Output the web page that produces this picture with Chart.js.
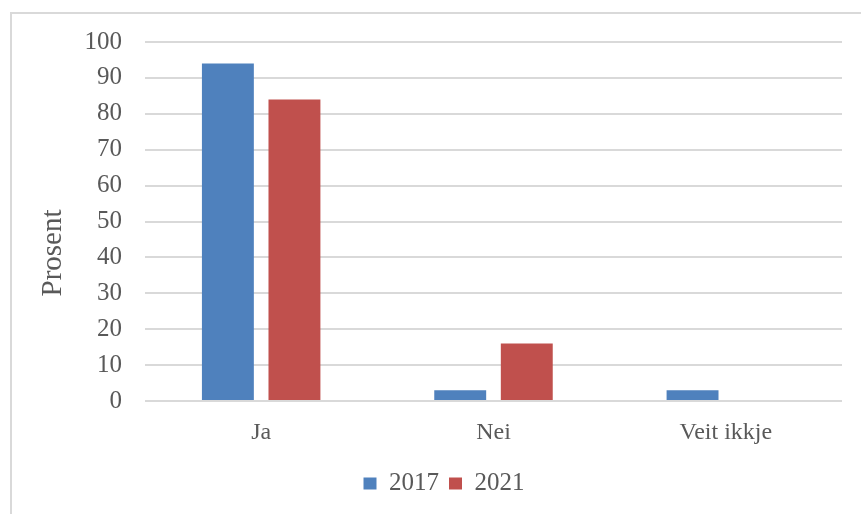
<!DOCTYPE html>
<html>
<head>
<meta charset="utf-8">
<script src="https://cdn.jsdelivr.net/npm/chart.js@4/dist/chart.umd.min.js"></script>
<style>
  html, body { margin: 0; padding: 0; background: #ffffff; overflow: hidden; }
  #wrap { position: relative; width: 861px; height: 514px; }
  canvas { display: block; }
</style>
</head>
<body>
<div id="wrap"><canvas id="c" width="861" height="514"></canvas></div>
<script>
const categories = ["Ja", "Nei", "Veit ikkje"];
const seriesNames = ["2017", "2021"];
const values2017 = [94, 3, 3];
const values2021 = [84, 16, 0];
const yTicks = [0, 10, 20, 30, 40, 50, 60, 70, 80, 90, 100];
const yTitle = "Prosent";

const FONT = "'Liberation Serif', 'DejaVu Serif', serif";
const TEXT = "#595959";
const GRID = "#d9d9d9";

const framePlugin = {
  id: 'frame',
  beforeDraw(chart) {
    const ctx = chart.ctx;
    ctx.save();
    ctx.fillStyle = '#ffffff';
    ctx.fillRect(0, 0, chart.width, chart.height);
    ctx.strokeStyle = GRID;
    ctx.lineWidth = 2;
    ctx.beginPath();
    ctx.moveTo(11, chart.height);
    ctx.lineTo(11, 13);
    ctx.lineTo(chart.width, 13);
    ctx.stroke();
    ctx.restore();
  },
  afterDraw(chart) {
    const ctx = chart.ctx;
    ctx.save();
    ctx.fillStyle = TEXT;
    ctx.font = "29px " + FONT;
    ctx.textAlign = 'center';
    ctx.textBaseline = 'middle';
    ctx.translate(53, 253);
    ctx.rotate(-Math.PI / 2);
    ctx.fillText(yTitle, 0, 0);
    ctx.restore();
  }
};

new Chart(document.getElementById('c'), {
  type: 'bar',
  data: {
    labels: categories,
    datasets: [
      { label: seriesNames[0], data: values2017, backgroundColor: '#4f81bd', borderWidth: 0,
        categoryPercentage: 0.573, barPercentage: 0.78 },
      { label: seriesNames[1], data: values2021, backgroundColor: '#c0504d', borderWidth: 0,
        categoryPercentage: 0.573, barPercentage: 0.78 }
    ]
  },
  options: {
    responsive: false,
    animation: false,
    devicePixelRatio: 1,
    layout: { padding: { top: 42, right: 19, bottom: 8, left: 46 } },
    plugins: {
      legend: {
        position: 'bottom',
        labels: {
          font: { family: FONT, size: 25 },
          color: TEXT,
          boxWidth: 13,
          boxHeight: 12,
          padding: 10
        }
      },
      tooltip: { enabled: false }
    },
    scales: {
      x: {
        grid: { display: false, drawTicks: false },
        border: { display: false },
        ticks: { font: { family: FONT, size: 24 }, color: TEXT, padding: 17 },
        afterFit(s) { s.height = 60; }
      },
      y: {
        min: 0, max: 100,
        afterBuildTicks(s) { s.ticks = yTicks.map(v => ({ value: v })); },
        grid: { color: GRID, lineWidth: 2, drawTicks: false },
        border: { display: false },
        ticks: { font: { family: FONT, size: 25 }, color: TEXT, padding: 23, stepSize: 10 },
        title: { display: false },
        afterFit(s) { s.width = 99; }
      }
    }
  },
  plugins: [framePlugin]
});
</script>
</body>
</html>
